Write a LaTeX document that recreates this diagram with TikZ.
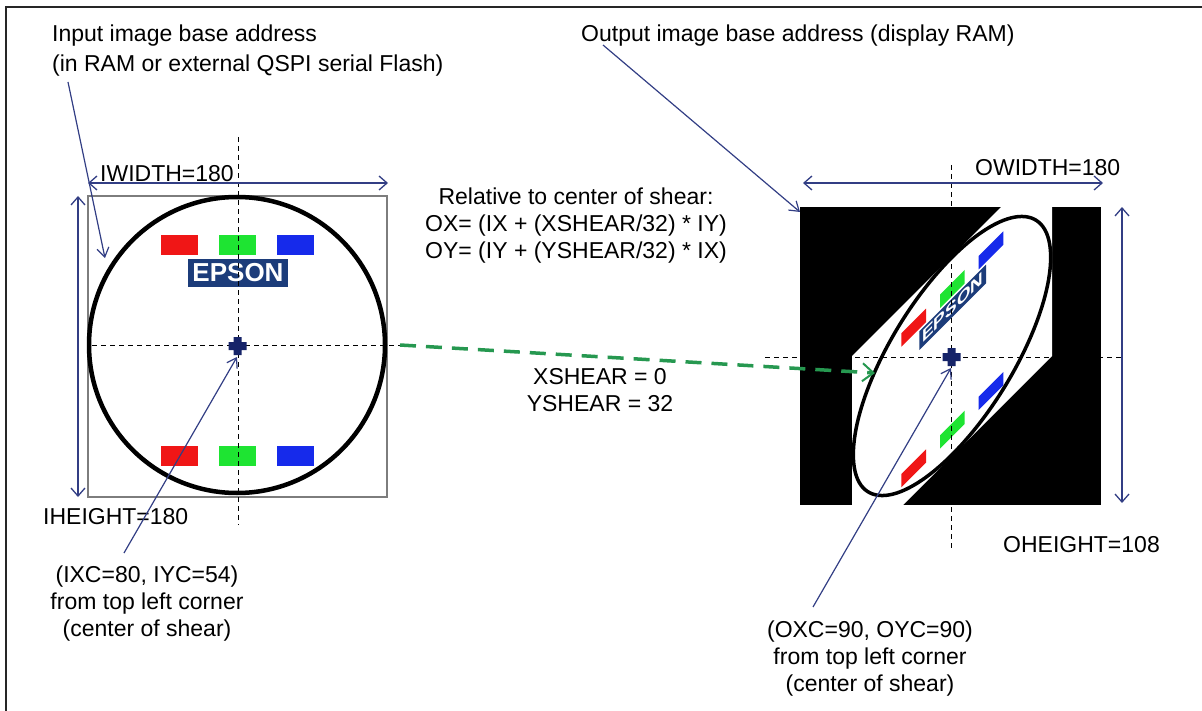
\documentclass[tikz,border=0pt]{standalone}
\usepackage{fontspec}
\setmainfont{Liberation Sans}
\usetikzlibrary{arrows.meta}

\definecolor{leader}{RGB}{50,62,132}
\definecolor{navy}{RGB}{22,36,105}
\definecolor{epsonblue}{RGB}{28,60,122}
\definecolor{shgreen}{RGB}{38,152,80}
\definecolor{pixred}{RGB}{240,22,22}
\definecolor{pixgreen}{RGB}{30,228,50}
\definecolor{pixblue}{RGB}{22,42,235}
\definecolor{boxgray}{RGB}{125,125,125}

\tikzset{
  lbl/.style={inner sep=0pt, font=\fontsize{23bp}{27bp}\selectfont},
  dim/.style={leader, line width=1.3bp,
    {Straight Barb[length=8bp,width=14bp]}-{Straight Barb[length=8bp,width=14bp]}},
  lead/.style={leader, line width=1.2bp, -{Straight Barb[length=9bp,width=12bp]}},
  axis/.style={black, line width=1bp, dash pattern=on 5bp off 4bp},
  shearflow/.style={shgreen, line width=3.5bp, dash pattern=on 16bp off 10bp,
    -{Straight Barb[length=11bp,width=18bp,line width=2bp]}},
  epson/.style={fill=epsonblue, text=white, inner sep=0pt,
    minimum width=100bp, minimum height=28bp,
    font=\fontsize{26bp}{26bp}\selectfont\bfseries},
  frame/.style={black!85, line width=2bp},
}

% test pattern: colour bars, logo and ring, centred on (0,0)
\newcommand{\shearart}[2]{%
  \fill[pixred]   (-76,-110) rectangle (-39,-90);
  \fill[pixgreen] (-18,-110) rectangle (19,-90);
  \fill[pixblue]  (40,-110)  rectangle (77,-90);
  \fill[pixred]   (-76,101)  rectangle (-39,121);
  \fill[pixgreen] (-18,101)  rectangle (19,121);
  \fill[pixblue]  (40,101)   rectangle (77,121);
  \node[epson,#2] at (1,-72) {EPSON};
  \draw[line width=#1] (0,0) circle (148);
}

\begin{document}
\begin{tikzpicture}[x=1bp,y=-1bp]
\useasboundingbox (0,0) rectangle (1202,711);

% outer frame (top and left edges)
\draw[frame] (6,711) -- (6,7) -- (1202,7);

% ---------- input image ----------
\draw[boxgray, line width=2bp] (88,196) rectangle (387,497);
\begin{scope}[shift={(237,345)}]
  \shearart{4.5bp}{}
\end{scope}
\draw[axis] (238,137) -- (238,525);
\draw[axis] (92,345) -- (400,345);
\coordinate (cIn) at (237.5,346);
\fill[navy] (cIn) ++(-9,-4) rectangle ++(18,8)
            (cIn) ++(-4,-9) rectangle ++(8,18);

% ---------- output image ----------
\fill[black] (800,207) rectangle (1101,505);
\begin{scope}
  \clip (800,207) rectangle (1101,505);
  \begin{scope}[cm={1,1,0,1,(952,356)}, scale=0.6667]
    \fill[white] (-150,-150) rectangle (150,150);
    \shearart{3.5bp}{transform shape}
  \end{scope}
\end{scope}
\draw[axis] (951,165) -- (951,550);
\draw[axis] (765,357) -- (1122,357);
\coordinate (cOut) at (951.5,357);
\fill[navy] (cOut) ++(-9,-4) rectangle ++(18,8)
            (cOut) ++(-4,-9) rectangle ++(8,18);

% ---------- dimension arrows ----------
\coordinate (iwL) at (88,183);   \coordinate (iwR) at (388,183);
\coordinate (ihT) at (78,196);   \coordinate (ihB) at (78,497);
\coordinate (owL) at (803,183);  \coordinate (owR) at (1103,183);
\coordinate (ohT) at (1122,207); \coordinate (ohB) at (1122,503);
\draw[dim] (iwL) -- (iwR);
\draw[dim] (ihT) -- (ihB);
\draw[dim] (owL) -- (owR);
\draw[dim] (ohT) -- (ohB);

% ---------- labels ----------
\node[lbl, anchor=west, align=left] (inlbl) at (52,51)
  {Input image base address\\[3bp](in RAM or external QSPI serial Flash)};
\node[lbl, anchor=west] (outlbl) at (581,36) {Output image base address (display RAM)};
\node[lbl, anchor=west] (iw) at (100,174) {IWIDTH=180};
\node[lbl, anchor=west] (ih) at (43,517) {IHEIGHT=180};
\node[lbl, anchor=west] (ow) at (975,168) {OWIDTH=180};
\node[lbl, anchor=west] (oh) at (1003,545) {OHEIGHT=108};
\node[lbl, align=center] (rel) at (576,226)
  {Relative to center of shear:\\OX= (IX + (XSHEAR/32) * IY)\\OY= (IY + (YSHEAR/32) * IX)};
\node[lbl, align=center] (shv) at (600,390) {XSHEAR = 0\\YSHEAR = 32};
\node[lbl, align=center] (icl) at (147,604)
  {(IXC=80, IYC=54)\\from top left corner\\(center of shear)};
\node[lbl, align=center] (ocl) at (870,659)
  {(OXC=90, OYC=90)\\from top left corner\\(center of shear)};

% ---------- leader lines ----------
\coordinate (inTail)  at (68,82);   \coordinate (inTip)  at (105,258);
\coordinate (outTail) at (603,45);  \coordinate (outTip) at (800,212);
\coordinate (icTail)  at (124,553); \coordinate (icTip)  at (237,357);
\coordinate (ocTail)  at (813,607); \coordinate (ocTip)  at (951,368);
\draw[lead] (inTail) -- (inTip);
\draw[lead] (outTail) -- (outTip);
\draw[lead] (icTail) -- (icTip);
\draw[lead] (ocTail) -- (ocTip);

% ---------- shear mapping ----------
\coordinate (flowA) at (400,345);
\coordinate (flowB) at (875,373);
\draw[shearflow] (flowA) -- (flowB);
\end{tikzpicture}
\end{document}
